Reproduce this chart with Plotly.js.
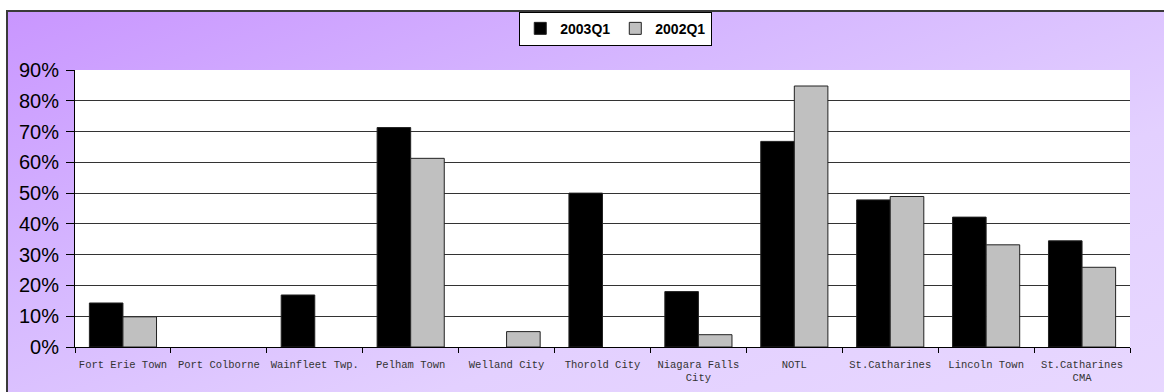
<!DOCTYPE html>
<html>
<head>
<meta charset="utf-8">
<script src="https://cdn.plot.ly/plotly-3.0.1.min.js"></script>
<style>
  html, body { margin: 0; padding: 0; width: 1164px; height: 392px; overflow: hidden; background: #ffffff; }
  #frame {
    position: absolute; left: 6px; top: 10px; width: 1170px; height: 400px;
    border-left: 2px solid #3a3a3a; border-top: 2px solid #3a3a3a;
    background: linear-gradient(160deg, #c996ff 0%, #d6b8ff 35%, #e3d0ff 65%, #e8d8ff 100%);
  }
  #chart { position: absolute; left: 0; top: 0; width: 1164px; height: 392px; }
</style>
</head>
<body>
<div id="frame"></div>
<div id="chart"></div>
<script>
const categories = [
  "Fort Erie Town", "Port Colborne", "Wainfleet Twp.", "Pelham Town", "Welland City",
  "Thorold City", "Niagara Falls<br>City", "NOTL", "St.Catharines", "Lincoln Town",
  "St.Catharines<br>CMA"
];
const series2003Q1 = [14.3, 0, 16.9, 71.3, 0, 50.0, 18.0, 66.8, 47.8, 42.2, 34.5];
const series2002Q1 = [9.8, 0, 0, 61.3, 5.0, 0, 4.0, 84.8, 48.9, 33.2, 25.9];
const yTickVals = [0, 10, 20, 30, 40, 50, 60, 70, 80, 90];
const yTickText = yTickVals.map(v => v + "%");

// no outline on empty (zero) bars
const outline = vals => vals.map(v => (v > 0 ? 1 : 0));

const traces = [
  {
    type: "bar", name: "<b>2003Q1</b>", x: categories, y: series2003Q1,
    marker: { color: "#000000", line: { color: "#222222", width: outline(series2003Q1) } }
  },
  {
    type: "bar", name: "<b>2002Q1</b>", x: categories, y: series2002Q1,
    marker: { color: "#c0c0c0", line: { color: "#222222", width: outline(series2002Q1) } }
  }
];

const layout = {
  width: 1164, height: 392,
  margin: { l: 75, r: 34, t: 70, b: 45, pad: 0 },
  paper_bgcolor: "rgba(0,0,0,0)",
  plot_bgcolor: "#ffffff",
  barmode: "group",
  bargap: 0.3,
  bargroupgap: 0,
  showlegend: true,
  legend: {
    orientation: "h",
    xref: "container", yref: "container",
    x: 0.529, xanchor: "center",
    y: 0.97, yanchor: "top",
    bgcolor: "#ffffff", bordercolor: "#000000", borderwidth: 1,
    font: { family: "Liberation Sans, Arial, sans-serif", size: 14, color: "#000000" },
    itemwidth: 30, tracegroupgap: 0
  },
  xaxis: {
    type: "category",
    tickson: "boundaries",
    ticks: "outside", ticklen: 5, tickcolor: "#000000",
    showline: true, linecolor: "#000000", linewidth: 1,
    showgrid: false,
    tickfont: { family: "Liberation Mono, Courier New, monospace", size: 10.5, color: "#333333" },
    ticklabelstandoff: 7,
    tickangle: 0,
    automargin: false
  },
  yaxis: {
    range: [0, 90],
    tickmode: "array",
    tickvals: yTickVals,
    ticktext: yTickText,
    ticks: "outside", ticklen: 8, tickcolor: "#000000",
    showline: true, linecolor: "#000000", linewidth: 1,
    showgrid: true, gridcolor: "#333333", gridwidth: 1,
    zeroline: false,
    tickfont: { family: "Liberation Sans, Arial, sans-serif", size: 20, color: "#000000" },
    ticklabelstandoff: 3,
    automargin: false
  }
};

Plotly.newPlot("chart", traces, layout, { displayModeBar: false, staticPlot: true });
</script>
</body>
</html>
